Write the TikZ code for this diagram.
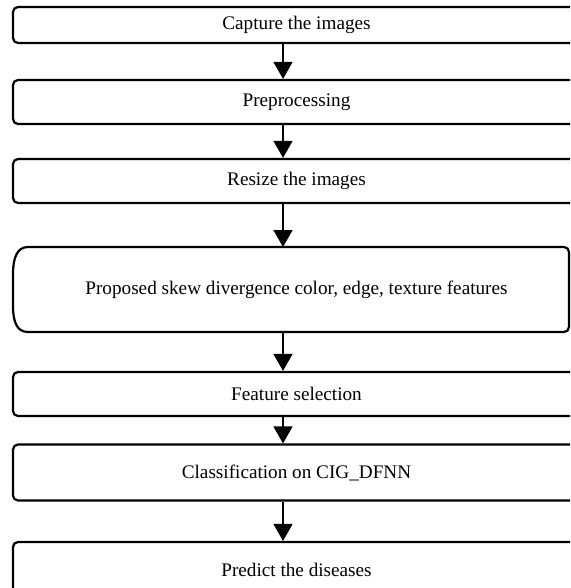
\documentclass[tikz,border=0pt]{standalone}
\usepackage{fontspec}
\setmainfont{Liberation Serif}
\usetikzlibrary{arrows.meta,calc}
\begin{document}
\begin{tikzpicture}[x=1pt,y=-1pt,
  box/.style={draw,line width=2.2pt,rounded corners=5pt,minimum width=567pt,inner sep=0pt,
    font=\fontsize{19.2}{23}\selectfont},
  plainbox/.style={draw=none,minimum width=567pt,inner sep=0pt,
    font=\fontsize{19.2}{23}\selectfont},
  arr/.style={line width=1.5pt,-{Triangle[length=17pt,width=19pt]}}]
\clip (0,0) rectangle (570,588);
\fill[white] (0,0) rectangle (570,588);
\coordinate (ax) at (283,0);
\node[box,minimum height=36pt] (b1) at (296.5,25) {Capture the images};
\node[box,minimum height=44pt] (b2) at (296.5,102) {Preprocessing};
\node[box,minimum height=44pt] (b3) at (296.5,181) {Resize the images};
\node[plainbox,minimum height=85pt] (b4) at (296.5,289.5) {Proposed skew divergence color, edge, texture features};
\draw[line width=2.2pt] (28,247) [rounded corners=5pt] -- (569,247) -- (569,332) [sharp corners] -- (28,332)
  .. controls (17,332) and (13,322) .. (13,306) -- (13,274)
  .. controls (13,258) and (17,247) .. (28,247) -- cycle;
\node[box,minimum height=44pt] (b5) at (296.5,394) {Feature selection};
\node[box,minimum height=56pt] (b6) at (296.5,472.5) {Classification on CIG\_DFNN};
\node[box,minimum height=56pt] (b7) at (296.5,570) {Predict the diseases};
\draw[arr] (b1.south -| ax) -- (b2.north -| ax);
\draw[arr] (b2.south -| ax) -- (b3.north -| ax);
\draw[arr] (b3.south -| ax) -- (ax |- 247,247);
\draw[arr] (ax |- 332,332) -- (b5.north -| ax);
\draw[arr] (b5.south -| ax) -- (b6.north -| ax);
\draw[arr] (b6.south -| ax) -- (b7.north -| ax);
\end{tikzpicture}
\end{document}
